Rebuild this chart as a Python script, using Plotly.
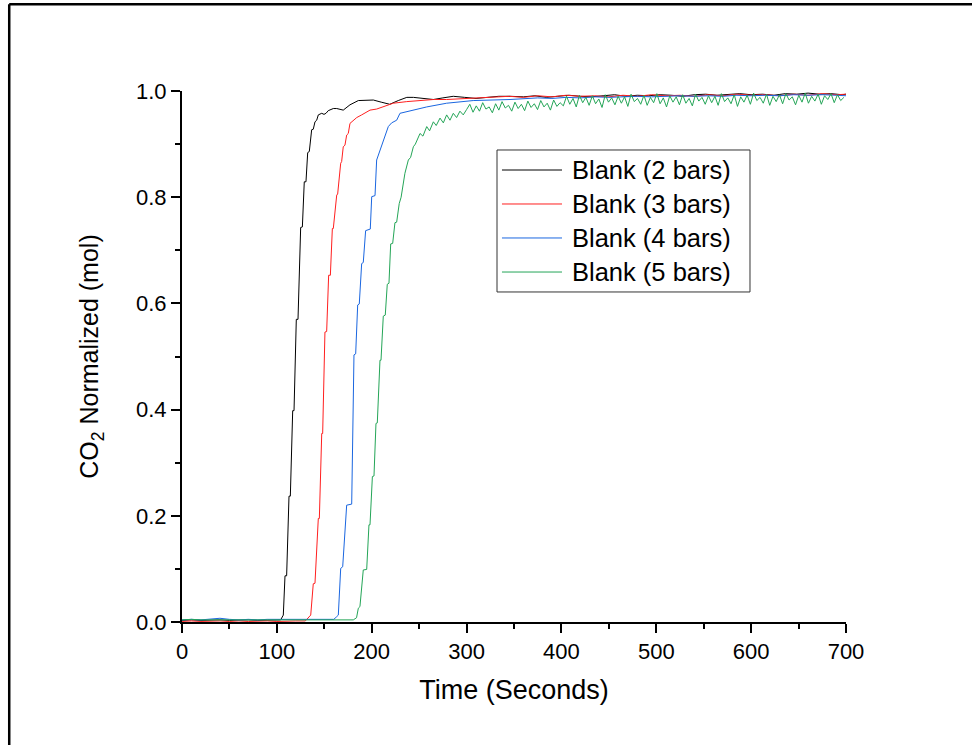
import plotly.graph_objects as go

# ---------------- data ----------------
t_2bars = [0, 10, 20, 30, 40, 50, 60, 70, 80, 90, 100, 104,
           106.8, 108.6, 110.3, 112.8, 114.2, 116.7, 118.1, 120.5, 122.3, 125.1, 126.9,
           128.9, 130.7, 132.5, 134.2, 136.7, 138.4, 140.2, 142.0, 143.7, 147.3, 149.7,
           151.8, 154.2, 159.5, 163.1, 170.0, 177.1, 185.9, 198.2, 201.7, 210, 219,
           228, 237, 244, 252, 265, 275, 286, 298, 310, 322, 334, 346,
           360, 372, 384, 396, 408, 420, 432, 444, 456, 468, 480, 492, 504, 516, 528,
           540, 552, 564, 576, 588, 600, 612, 624, 636, 648, 660, 672, 684, 696, 700]
v_2bars = [0.003, 0.004, 0.003, 0.004, 0.004, 0.003, 0.004, 0.004, 0.003, 0.004, 0.004, 0.004,
           0.013, 0.087, 0.087, 0.237, 0.237, 0.398, 0.398, 0.570, 0.570, 0.743, 0.744,
           0.829, 0.829, 0.884, 0.886, 0.927, 0.928, 0.942, 0.945, 0.955, 0.958, 0.956,
           0.958, 0.963, 0.967, 0.967, 0.964, 0.974, 0.982, 0.983, 0.983, 0.979, 0.975,
           0.982, 0.988, 0.988, 0.986, 0.984, 0.987, 0.990, 0.988, 0.986, 0.988, 0.990, 0.990,
           0.989, 0.991, 0.988, 0.990, 0.992, 0.990, 0.989, 0.991, 0.993, 0.990, 0.992, 0.991, 0.993, 0.992, 0.990,
           0.993, 0.994, 0.992, 0.993, 0.995, 0.993, 0.994, 0.992, 0.995, 0.994, 0.996, 0.994, 0.995, 0.993, 0.994]

t_3bars = [0, 10, 20, 30, 40, 50, 60, 70, 80, 90, 100, 110, 120, 130, 134.2,
           135.7, 138.4, 140.2, 143.7, 144.8, 147.3, 148.3, 150.7, 152.5, 154.6, 156.4,
           158.5, 159.5, 163.1, 164.1, 167.3, 168.3, 170.0, 171.8, 173.6, 175.3, 177.1,
           178.9, 184.2, 189.4, 194.7, 198.2, 205.2, 212.2, 222.8, 236.9, 250.9, 265.0,
           279.0, 300.0, 328.0, 345, 360, 375, 390, 405, 420, 435, 450, 465, 480, 495,
           510, 525, 540, 555, 570, 585, 600, 615, 630, 645, 660, 675, 690, 700]
v_3bars = [0.001, 0.002, 0.001, 0.002, 0.002, 0.001, 0.002, 0.001, 0.002, 0.002, 0.001, 0.002, 0.002, 0.002, 0.011,
           0.013, 0.072, 0.073, 0.195, 0.195, 0.355, 0.355, 0.546, 0.547, 0.653, 0.653,
           0.741, 0.741, 0.804, 0.806, 0.864, 0.867, 0.895, 0.898, 0.917, 0.920, 0.939,
           0.942, 0.950, 0.955, 0.961, 0.964, 0.966, 0.970, 0.977, 0.980, 0.982, 0.984,
           0.984, 0.986, 0.989, 0.990, 0.988, 0.991, 0.989, 0.992, 0.990, 0.991, 0.989, 0.992, 0.990, 0.993,
           0.991, 0.992, 0.990, 0.993, 0.991, 0.994, 0.992, 0.993, 0.991, 0.994, 0.992, 0.995, 0.993, 0.994]

t_4bars = [0, 10, 20, 30, 40, 50, 60, 70, 80, 90, 100, 110, 120, 130, 140, 150, 160, 163.1,
           164.8, 167.3, 169.4, 173.6, 178.9, 181.3, 183.1, 185.2, 186.9, 189.4, 191.1,
           193.6, 195.4, 198.5, 200.0, 203.5, 205.2, 208.7, 214.0, 217.5, 221.0, 226.3,
           229.8, 236.9, 243.9, 258.0, 279.0, 307.0, 345.8, 360, 375, 390, 405, 420, 435,
           450, 465, 480, 495, 510, 525, 540, 555, 570, 585, 600, 615, 630, 645, 660, 675, 690, 700]
v_4bars = [0.004, 0.005, 0.004, 0.005, 0.007, 0.005, 0.004, 0.005, 0.004, 0.005, 0.005, 0.004, 0.005, 0.004, 0.005, 0.004, 0.005, 0.010,
           0.013, 0.101, 0.104, 0.220, 0.222, 0.503, 0.505, 0.597, 0.599, 0.675, 0.677,
           0.737, 0.738, 0.740, 0.801, 0.803, 0.870, 0.889, 0.917, 0.933, 0.940, 0.945,
           0.958, 0.961, 0.964, 0.970, 0.977, 0.982, 0.984, 0.985, 0.987, 0.986, 0.988, 0.987, 0.989,
           0.988, 0.989, 0.990, 0.989, 0.990, 0.991, 0.990, 0.991, 0.990, 0.992, 0.991, 0.992, 0.991, 0.993, 0.992, 0.993, 0.992, 0.991]

t_5bars_rise = [0, 10, 20, 30, 40, 50, 60, 70, 80, 90, 100, 110, 120, 130, 140, 150, 160, 170, 180.6,
                184.0, 185.9, 187.6, 191.1, 194.7, 197.1, 198.2, 200.7, 202.4, 204.5, 205.9,
                208.7, 209.8, 212.2, 214.3, 216.4, 218.2, 220.0, 222.1, 224.5, 226.3, 229.0,
                231, 233.3, 235, 238.6, 241, 243.9, 246, 250.9, 254, 258, 261, 265, 268, 272,
                275.5, 279, 282.5, 286, 289.5, 293, 296.5]
v_5bars_rise = [0.004, 0.005, 0.004, 0.004, 0.005, 0.004, 0.005, 0.004, 0.004, 0.005, 0.004, 0.004, 0.005, 0.004, 0.004, 0.005, 0.004, 0.004, 0.004,
                0.008, 0.026, 0.029, 0.098, 0.099, 0.183, 0.183, 0.274, 0.275, 0.374, 0.375,
                0.493, 0.493, 0.576, 0.578, 0.636, 0.638, 0.712, 0.713, 0.752, 0.753, 0.788,
                0.800, 0.832, 0.845, 0.870, 0.875, 0.895, 0.900, 0.920, 0.915, 0.933, 0.925, 0.942, 0.935, 0.949,
                0.940, 0.955, 0.945, 0.958, 0.950, 0.962, 0.955]
# plateau of the 5-bar run, one reading per 3.4 s sample from t = 300 s
t_5bars_plateau_start = 300.0
t_5bars_sample = 3.4
v_5bars_plateau = [0.965, 0.975, 0.960, 0.972, 0.962, 0.978, 0.966, 0.970, 0.959, 0.976,
                   0.964, 0.980, 0.968, 0.973, 0.962, 0.979, 0.967, 0.975, 0.963, 0.981,
                   0.969, 0.976, 0.965, 0.982, 0.970, 0.977, 0.964, 0.983, 0.971, 0.978,
                   0.972, 0.990, 0.975, 0.986, 0.970, 0.992, 0.978, 0.988, 0.973, 0.991,
                   0.976, 0.985, 0.969, 0.993, 0.979, 0.987, 0.974, 0.990, 0.977, 0.989,
                   0.971, 0.994, 0.980, 0.986, 0.975, 0.992, 0.973, 0.988, 0.978, 0.995,
                   0.976, 0.987, 0.970, 0.991, 0.979, 0.989, 0.974, 0.993, 0.977, 0.986,
                   0.972, 0.994, 0.981, 0.988, 0.975, 0.991, 0.978, 0.990, 0.973, 0.995,
                   0.980, 0.987, 0.976, 0.993, 0.971, 0.989, 0.979, 0.992, 0.975, 0.996,
                   0.982, 0.988, 0.977, 0.994, 0.973, 0.990, 0.980, 0.993, 0.976, 0.995,
                   0.983, 0.989, 0.974, 0.992, 0.979, 0.996, 0.977, 0.990, 0.981, 0.994,
                   0.975, 0.991, 0.984, 0.995, 0.978, 0.993, 0.982, 0.988]
t_5bars = t_5bars_rise + [t_5bars_plateau_start + t_5bars_sample * i for i in range(len(v_5bars_plateau))]
v_5bars = v_5bars_rise + v_5bars_plateau

series_names = ["Blank (2 bars)", "Blank (3 bars)", "Blank (4 bars)", "Blank (5 bars)"]
series_colors = ["#000000", "#FF1F1F", "#1A66E0", "#24A557"]

x_ticks = [0, 100, 200, 300, 400, 500, 600, 700]
y_ticks = [0.0, 0.2, 0.4, 0.6, 0.8, 1.0]

# ---------------- figure ----------------
FONT = "Arial, 'Liberation Sans', sans-serif"
fig = go.Figure()
for name, color, tx, vy in zip(series_names, series_colors,
                               [t_2bars, t_3bars, t_4bars, t_5bars],
                               [v_2bars, v_3bars, v_4bars, v_5bars]):
    fig.add_trace(go.Scatter(x=tx, y=vy, mode="lines", name=name,
                             line=dict(color=color, width=1), showlegend=False))

axis_common = dict(showline=True, linecolor="black", linewidth=2, mirror=False,
                   ticks="outside", ticklen=9, tickwidth=2, tickcolor="black",
                   showgrid=False, zeroline=False,
                   tickfont=dict(family=FONT, size=22, color="black"))
fig.update_xaxes(range=[0, 700], tickvals=x_ticks,
                 minor=dict(dtick=50, ticklen=5, tickwidth=2, tickcolor="black", ticks="outside"),
                 title=dict(text="Time (Seconds)", font=dict(family=FONT, size=27, color="black"), standoff=17),
                 **axis_common)
fig.update_yaxes(range=[0, 1], tickvals=y_ticks, tickformat=".1f",
                 minor=dict(dtick=0.1, ticklen=5, tickwidth=2, tickcolor="black", ticks="outside"),
                 title=dict(text="CO<sub>2</sub> Normalized (mol)", font=dict(family=FONT, size=25, color="black"), standoff=30),
                 **axis_common)

# outer frame lines (top and left) of the original exported page
fig.add_shape(type="line", xref="paper", yref="paper", x0=-0.2602, x1=1.2, y0=1.1633, y1=1.1633,
              line=dict(color="black", width=2.5))
fig.add_shape(type="line", xref="paper", yref="paper", x0=-0.2602, x1=-0.2602, y0=-0.25, y1=1.1633,
              line=dict(color="black", width=2.5))

# legend box (drawn by hand to match the reference's sample-line length and row spacing)
leg_x0, leg_x1, leg_y0, leg_y1 = 0.4744, 0.8554, 0.6215, 0.8889
fig.add_shape(type="rect", xref="paper", yref="paper", x0=leg_x0, x1=leg_x1, y0=leg_y0, y1=leg_y1,
              line=dict(color="#333333", width=1), fillcolor="white", layer="above")
row_y = [0.8512, 0.7872, 0.7232, 0.6591]
for name, color, yy in zip(series_names, series_colors, row_y):
    fig.add_shape(type="line", xref="paper", yref="paper", x0=0.4819, x1=0.5723, y0=yy, y1=yy,
                  line=dict(color=color, width=1), layer="above")
    fig.add_annotation(xref="paper", yref="paper", x=0.5848, y=yy, xanchor="left", yanchor="middle",
                       text=name, showarrow=False,
                       font=dict(family=FONT, size=25.5, color="black"))

fig.update_layout(
    width=972, height=745,
    margin=dict(l=182, r=126, t=91, b=123),
    paper_bgcolor="white", plot_bgcolor="white",
    font=dict(family=FONT, color="black"),
    showlegend=False,
)

fig.write_html("out.html",
               config={"displayModeBar": False, "staticPlot": True},
               post_script="document.body.style.margin='0px';document.body.style.overflow='hidden';")
